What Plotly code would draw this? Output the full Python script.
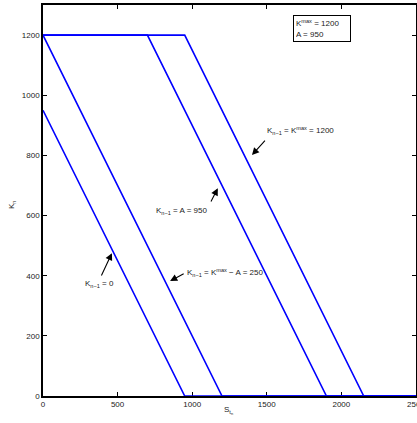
import plotly.graph_objects as go

# Data: breakpoints of K_n vs S_tn for each K_{n-1}
curve_x = {
    "0": [0, 950, 2500],
    "250": [0, 1200, 2500],
    "950": [0, 700, 1900, 2500],
    "1200": [0, 950, 2150, 2500],
}
curve_y = {
    "0": [950, 0, 0],
    "250": [1200, 0, 0],
    "950": [1200, 1200, 0, 0],
    "1200": [1200, 1200, 0, 0],
}
x_ticks = [0, 500, 1000, 1500, 2000, 2500]
y_ticks = [0, 200, 400, 600, 800, 1000, 1200]

FONT = "Liberation Sans, Arial, sans-serif"
fig = go.Figure()
for k in curve_x:
    fig.add_trace(go.Scatter(x=curve_x[k], y=curve_y[k], mode="lines",
                             line=dict(color="#0000ff", width=1.6),
                             cliponaxis=False,
                             showlegend=False, hoverinfo="skip"))

# arrows: (tip_x, tip_y, tail_x, tail_y)
arrows = [
    (462, 475, 387, 396),
    (852, 382, 953, 409),
    (1172, 691, 1121, 642),
    (1401, 801, 1497, 854),
]
for tx, ty, sx, sy in arrows:
    fig.add_annotation(x=tx, y=ty, ax=sx, ay=sy, xref="x", yref="y", axref="x", ayref="y",
                       text="", showarrow=True, arrowhead=2, arrowsize=1.3, arrowwidth=1.1,
                       arrowcolor="black")

labels = [
    (376, 372, "K<sub>n−1</sub> = 0", "center"),
    (953, 409, "K<sub>n−1</sub> = K<sup>max</sup> − A = 250", "left"),
    (1110, 615, "K<sub>n−1</sub> = A = 950", "right"),
    (1490, 884, "K<sub>n−1</sub> = K<sup>max</sup> = 1200", "left"),
]
for x, y, t, anc in labels:
    fig.add_annotation(x=x, y=y, xref="x", yref="y", text=t, showarrow=False,
                       xanchor=anc, yanchor="middle", font=dict(size=8, color="#222", family=FONT))

fig.add_annotation(x=1678, y=1267, xref="x", yref="y", xanchor="left", yanchor="top",
                   text="K<sup>max</sup> = 1200<br>A = 950", showarrow=False, align="left",
                   bordercolor="black", borderwidth=1, borderpad=2, bgcolor="white",
                   width=52, font=dict(size=8, color="#222", family=FONT))

# axis titles
fig.add_annotation(x=(228 - 43) / 373, y=-(410 - 396) / 391, xref="paper", yref="paper",
                   text="S<sub>t<sub>n</sub></sub>", showarrow=False, xanchor="center", yanchor="middle",
                   font=dict(size=8, color="#222", family=FONT))
fig.add_annotation(x=-(43 - 12) / 373, y=(396 - 205) / 391, xref="paper", yref="paper",
                   text="K<sub>n</sub>", showarrow=False, textangle=-90, xanchor="center", yanchor="middle",
                   font=dict(size=8, color="#222", family=FONT))

axis_common = dict(showgrid=False, zeroline=False, ticks="inside", ticklen=4, tickwidth=1,
                   tickcolor="black", showline=True, linecolor="black", linewidth=1.5,
                   mirror="ticks", ticklabeloverflow="allow", automargin=False,
                   layer="below traces",
                   tickfont=dict(size=8, color="#222", family=FONT))
fig.update_xaxes(range=[0, 2500.5], tickvals=x_ticks, **axis_common)
fig.update_yaxes(range=[0, 1300], tickvals=y_ticks, **axis_common)
fig.update_layout(width=417, height=423, margin=dict(l=43, r=1, t=5, b=27),
                  plot_bgcolor="white", paper_bgcolor="white", font=dict(family=FONT))
fig.write_html("out.html", config={"displayModeBar": False},
               post_script="document.body.style.margin='0';document.body.style.overflow='hidden';")
